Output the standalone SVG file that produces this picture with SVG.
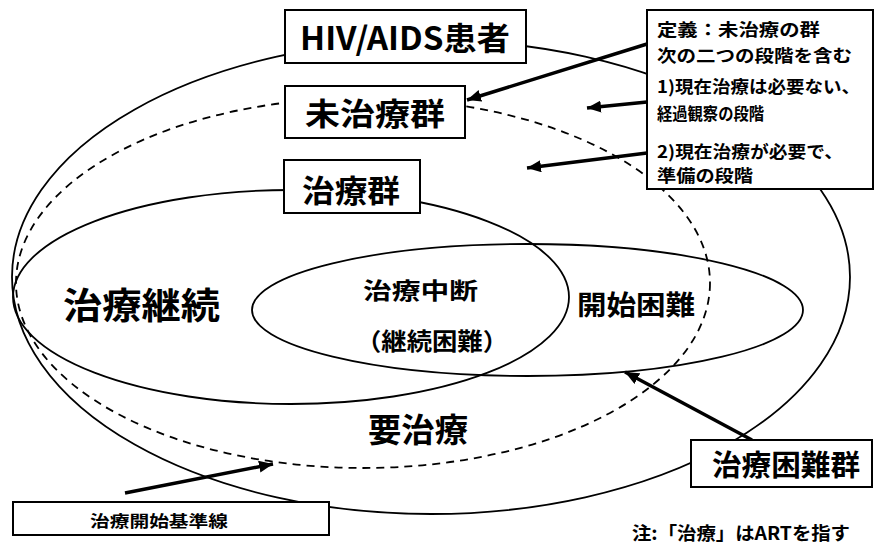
<svg xmlns="http://www.w3.org/2000/svg" width="875" height="548" viewBox="0 0 875 548">
<style>
.t{font-family:"Noto Sans CJK JP","Noto Sans CJK SC",sans-serif;font-weight:bold;fill:#000}
.sol{fill:none;stroke:#000;stroke-width:1.8}
.dash{fill:none;stroke:#000;stroke-width:1.8;stroke-dasharray:8 6}
.box{fill:#fff;stroke:#000;stroke-width:2}
.arr{fill:none;stroke:#000;stroke-width:3.5;marker-end:url(#ah)}
</style>
<defs>
<marker id="ah" markerUnits="userSpaceOnUse" markerWidth="16" markerHeight="12" refX="14" refY="6" orient="auto">
<path d="M0,0 L14,6 L0,12 z" fill="#000"/>
</marker>
</defs>
<rect width="875" height="548" fill="#fff"/>
<g id="regions">
<ellipse id="hiv-aids" class="sol" cx="431" cy="277" rx="419" ry="237"/>
<ellipse id="untreated" class="dash" cx="363" cy="283" rx="347" ry="185"/>
<ellipse id="treated" class="sol" cx="291" cy="297" rx="278" ry="107"/>
<ellipse id="difficult" class="sol" cx="527.5" cy="310" rx="275.5" ry="66"/>
</g>
<g id="region-labels">
<text class="t" x="63" y="319" font-size="36" textLength="157" lengthAdjust="spacingAndGlyphs">治療継続</text>
<text class="t" x="363" y="299" font-size="23" textLength="115" lengthAdjust="spacingAndGlyphs">治療中断</text>
<text class="t" x="356" y="350" font-size="24" textLength="152" lengthAdjust="spacingAndGlyphs">（継続困難）</text>
<text class="t" x="577" y="315" font-size="27" textLength="118" lengthAdjust="spacingAndGlyphs">開始困難</text>
<text class="t" x="368" y="442" font-size="33" textLength="100" lengthAdjust="spacingAndGlyphs">要治療</text>
</g>
<g id="connectors">
<line class="arr" x1="647" y1="44" x2="467" y2="100"/>
<line class="arr" x1="647" y1="102" x2="587" y2="108"/>
<line class="arr" x1="647" y1="153" x2="527" y2="168"/>
<line class="arr" x1="125" y1="493" x2="273" y2="464"/>
<line class="arr" x1="752" y1="440" x2="625" y2="372"/>
</g>
<g id="node-hiv">
<rect class="box" x="285" y="10" width="241" height="53"/>
<text class="t" x="300" y="50" font-size="32" textLength="210" lengthAdjust="spacingAndGlyphs">HIV/AIDS患者</text>
</g>
<g id="node-untreated">
<rect class="box" x="285" y="86" width="180" height="52"/>
<text class="t" x="305" y="125" font-size="31" textLength="140" lengthAdjust="spacingAndGlyphs">未治療群</text>
</g>
<g id="node-treated">
<rect class="box" x="284" y="160" width="136" height="53"/>
<text class="t" x="302" y="202" font-size="31" textLength="98" lengthAdjust="spacingAndGlyphs">治療群</text>
</g>
<g id="node-definition">
<rect class="box" x="647" y="10" width="226" height="179"/>
<text class="t" x="657" y="36" font-size="17" textLength="163" lengthAdjust="spacingAndGlyphs">定義：未治療の群</text>
<text class="t" x="657" y="62" font-size="17" textLength="195" lengthAdjust="spacingAndGlyphs">次の二つの段階を含む</text>
<text class="t" x="657" y="93" font-size="17" textLength="203" lengthAdjust="spacingAndGlyphs">1)現在治療は必要ない、</text>
<text class="t" x="657" y="120" font-size="17" textLength="107" lengthAdjust="spacingAndGlyphs">経過観察の段階</text>
<text class="t" x="657" y="158" font-size="17" textLength="186" lengthAdjust="spacingAndGlyphs">2)現在治療が必要で、</text>
<text class="t" x="657" y="182" font-size="17" textLength="96" lengthAdjust="spacingAndGlyphs">準備の段階</text>
</g>
<g id="node-baseline">
<rect class="box" x="13" y="502" width="316" height="33"/>
<text class="t" x="90" y="527" font-size="16" textLength="138" lengthAdjust="spacingAndGlyphs">治療開始基準線</text>
</g>
<g id="node-difficult">
<rect class="box" x="691" y="440" width="181" height="47"/>
<text class="t" x="712" y="476" font-size="29" textLength="148" lengthAdjust="spacingAndGlyphs">治療困難群</text>
</g>
<g id="note">
<text class="t" x="632" y="540" font-size="18" textLength="218" lengthAdjust="spacingAndGlyphs">注:「治療」はARTを指す</text>
</g>
</svg>
